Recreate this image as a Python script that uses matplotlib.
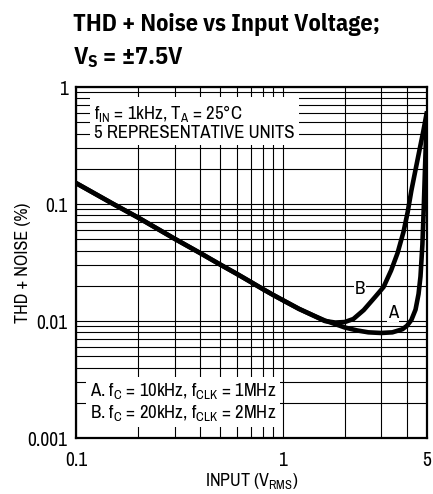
import matplotlib
matplotlib.use('Agg')
import matplotlib.pyplot as plt
from matplotlib.ticker import LogLocator, NullFormatter, FixedLocator

FONT = 'Archivo Narrow'
TITLE_FONT = 'IBM Plex Sans Condensed'
plt.rcParams['font.family'] = [FONT, 'DejaVu Sans']
plt.rcParams['mathtext.fontset'] = 'custom'
plt.rcParams['mathtext.rm'] = FONT
plt.rcParams['mathtext.it'] = FONT
plt.rcParams['mathtext.bf'] = TITLE_FONT + ':bold'

# curve A: fC = 10kHz, fCLK = 1MHz
a_x = [0.1, 0.15, 0.2, 0.3, 0.4, 0.5, 0.6, 0.7, 0.8, 0.9, 1.0, 1.2, 1.4,
       1.6, 1.8, 2.0, 2.3, 2.6, 3.0, 3.4, 3.8, 4.0, 4.2, 4.4, 4.55, 4.65,
       4.75, 4.82, 4.88, 4.94, 5.0]
a_y = [0.151, 0.101, 0.0765, 0.0505, 0.038, 0.0303, 0.0253, 0.0216, 0.0188,
       0.0167, 0.0151, 0.0127, 0.0112, 0.0101, 0.0094, 0.0088, 0.0083,
       0.0080, 0.0079, 0.0080, 0.0085, 0.0091, 0.0102, 0.0125, 0.017,
       0.024, 0.045, 0.09, 0.18, 0.35, 0.6]

# curve B: fC = 20kHz, fCLK = 2MHz
b_x = [0.1, 0.15, 0.2, 0.3, 0.4, 0.5, 0.6, 0.7, 0.8, 0.9, 1.0, 1.2, 1.4,
       1.6, 1.8, 2.0, 2.2, 2.47, 2.8, 3.08, 3.35, 3.6, 3.85, 4.03, 4.2,
       4.41, 4.6, 4.8, 5.0]
b_y = [0.151, 0.101, 0.0765, 0.0505, 0.038, 0.0303, 0.0253, 0.0216, 0.0188,
       0.0167, 0.0151, 0.0127, 0.0112, 0.0100, 0.0097, 0.0098, 0.0104,
       0.0124, 0.0160, 0.0195, 0.027, 0.038, 0.058, 0.085, 0.13, 0.2,
       0.29, 0.42, 0.62]

x_ticks = [0.1, 1, 5]
x_labels = ['0.1', '1', '5']
y_ticks = [0.001, 0.01, 0.1, 1]
y_labels = ['0.001', '0.01', '0.1', '1']

W, H = 433, 494
fig = plt.figure(figsize=(W / 100, H / 100), dpi=100)
ax = fig.add_axes([76 / W, 1 - 438 / H, 351 / W, 351 / H])

ax.set_xscale('log')
ax.set_yscale('log')
ax.set_xlim(0.1, 5)
ax.set_ylim(0.001, 1)

ax.plot(a_x, a_y, color='black', lw=3.3, solid_capstyle='butt', zorder=4)
ax.plot(b_x, b_y, color='black', lw=3.3, solid_capstyle='butt', zorder=4)

# grid: every decade gets its 2..9 lines
ax.xaxis.set_major_locator(FixedLocator(x_ticks))
ax.xaxis.set_minor_locator(LogLocator(base=10, subs=range(2, 10)))
ax.yaxis.set_major_locator(FixedLocator(y_ticks))
ax.yaxis.set_minor_locator(LogLocator(base=10, subs=range(2, 10)))
ax.xaxis.set_minor_formatter(NullFormatter())
ax.yaxis.set_minor_formatter(NullFormatter())
ax.set_xticklabels(x_labels)
ax.set_yticklabels(y_labels)
ax.grid(True, which='both', color='black', lw=0.8)
ax.tick_params(which='both', length=0, labelsize=14)
ax.tick_params(axis='x', pad=9)
ax.tick_params(axis='y', pad=6)
for s in ax.spines.values():
    s.set_linewidth(1.6)

ax.set_xlabel(r'INPUT (V$_{\mathrm{RMS}}$)', fontsize=13)
ax.set_ylabel('THD + NOISE (%)', fontsize=13)
ax.xaxis.set_label_coords(0.5, (438 - 481) / 351)
ax.yaxis.set_label_coords((23 - 76) / 351, 0.5)
ax.xaxis.label.set_va('center')
ax.yaxis.label.set_va('center')

box = dict(facecolor='white', edgecolor='none', pad=3)
fig.text(94 / W, 1 - 122 / H,
         'f$_{\\mathrm{IN}}$ = 1kHz, T$_{\\mathrm{A}}$ = 25°C\n5 REPRESENTATIVE UNITS',
         fontsize=13.5, va='center', ha='left', linespacing=1.1, bbox=box, zorder=5)
fig.text(90 / W, 1 - 402 / H,
         'A. f$_{\\mathrm{C}}$ = 10kHz, f$_{\\mathrm{CLK}}$ = 1MHz\n'
         'B. f$_{\\mathrm{C}}$ = 20kHz, f$_{\\mathrm{CLK}}$ = 2MHz',
         fontsize=13.5, va='center', ha='left', linespacing=1.1, bbox=box, zorder=5)
fig.text(360 / W, 1 - 289 / H, 'B', fontsize=13.5, ha='center', va='center',
         bbox=dict(facecolor='white', edgecolor='none', pad=1))
fig.text(393 / W, 1 - 313 / H, 'A', fontsize=13.5, ha='center', va='center',
         bbox=dict(facecolor='white', edgecolor='none', pad=1))

fig.text(73 / W, 1 - 24 / H, 'THD + Noise vs Input Voltage;', fontsize=17.5,
         family=TITLE_FONT, fontweight='bold', ha='left', va='center')
fig.text(73 / W, 1 - 58 / H, r'V$_{\mathbf{S}}$ = ±7.5V', fontsize=17.5,
         family=TITLE_FONT, fontweight='bold', ha='left', va='center')

fig.savefig('out.png', dpi=100)
